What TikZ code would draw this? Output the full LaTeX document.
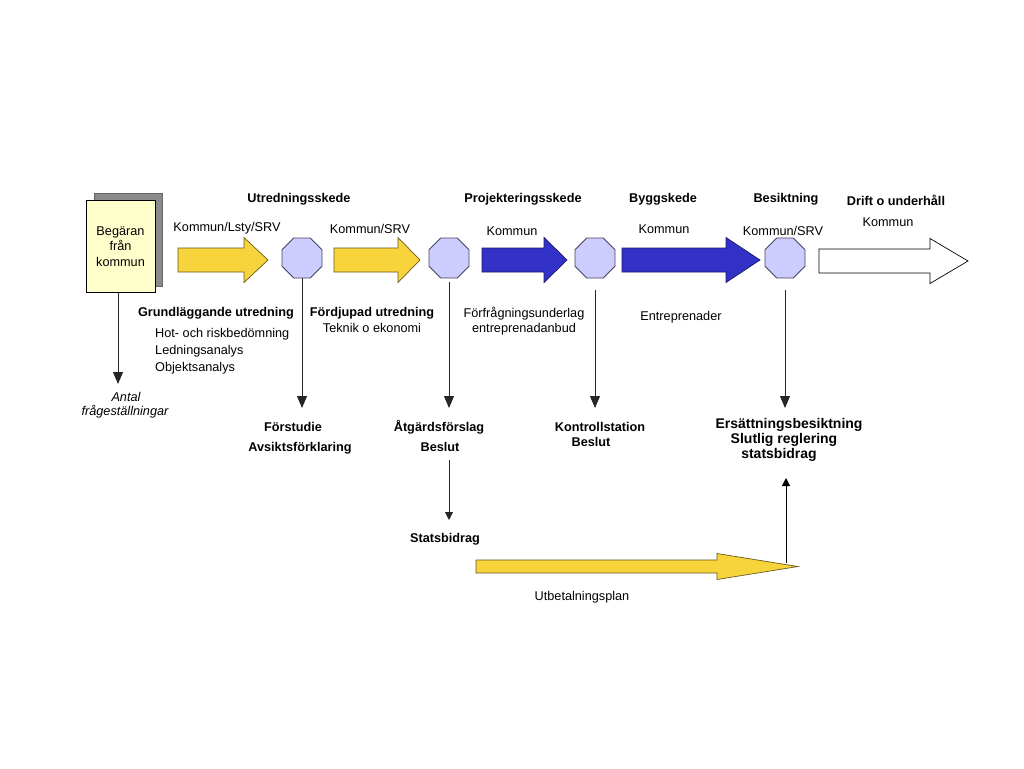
\documentclass[tikz,border=0pt]{standalone}
\usepackage{fontspec}
\setmainfont{Liberation Sans}
\usetikzlibrary{shapes.geometric,arrows.meta}
\definecolor{yel}{HTML}{F7D43C}
\definecolor{yelb}{HTML}{6B5A1E}
\definecolor{blu}{HTML}{3232C8}
\definecolor{blub}{HTML}{1A1A66}
\definecolor{octf}{HTML}{CCCCFF}
\definecolor{octb}{HTML}{44445E}
\definecolor{papf}{HTML}{FFFFCC}
\definecolor{shad}{HTML}{8A8A8A}
\newcommand{\blockarrow}[7]{%
  \draw[#1] (#2,#5-#6) -- (#3,#5-#6) -- (#3,#5-#7) -- (#4,#5) -- (#3,#5+#7) -- (#3,#5+#6) -- (#2,#5+#6) -- cycle;}
\begin{document}
\begin{tikzpicture}[x=1pt,y=-1pt,
  txt/.style={font=\fontsize{12.7}{15}\selectfont, inner sep=0pt, anchor=base},
  bld/.style={txt, font=\fontsize{12.7}{15}\selectfont\bfseries},
  bigb/.style={txt, font=\fontsize{14}{15}\selectfont\bfseries},
  oct/.style={regular polygon, regular polygon sides=8, minimum size=43.3pt, inner sep=0pt, fill=octf, draw=octb, line width=0.9pt},
  yarrow/.style={fill=yel, draw=yelb, line width=0.7pt},
  barrow/.style={fill=blu, draw=blub, line width=0.7pt},
  warrow/.style={fill=white, draw=black, line width=0.7pt},
  darr/.style={-{Triangle[width=10pt,length=12pt]}, line width=0.9pt, draw=black!85},
  sarr/.style={-{Triangle[width=8pt,length=8pt]}, line width=0.9pt, draw=black!85}]
\useasboundingbox (0,0) rectangle (1024,768);
\fill[white] (0,0) rectangle (1024,768);

% request box with shadow
\node[rectangle, minimum width=68pt, minimum height=93pt, fill=shad, draw=black!60, line width=0.6pt] (shadow) at (128,239.5) {};
\node[rectangle, minimum width=69pt, minimum height=92pt, fill=papf, draw=black, line width=0.8pt, align=center, inner sep=0pt,
      font=\fontsize{12.7}{15.5}\selectfont] (beg) at (120.5,246.5) {Begäran\\från\\kommun};

% block arrows
\blockarrow{yarrow}{178}{244}{268}{260}{12}{22.5}
\blockarrow{yarrow}{334}{398}{420}{260}{12}{22.5}
\blockarrow{barrow}{482}{544}{567}{260}{12}{22.5}
\blockarrow{barrow}{622}{726}{760}{260}{12}{22.5}
\blockarrow{warrow}{819}{930}{968}{261}{12}{22.5}
\blockarrow{yarrow}{476}{717}{798}{566.5}{6.5}{13}

% octagons
\node[oct] (o1) at (302,258) {};
\node[oct] (o2) at (449,258) {};
\node[oct] (o3) at (595,258) {};
\node[oct] (o4) at (785,258) {};

% phase headings
\node[bld] (h1) at (299,202) {Utredningsskede};
\node[bld] (h2) at (523,202) {Projekteringsskede};
\node[bld] (h3) at (663,202) {Byggskede};
\node[bld] (h4) at (786,202) {Besiktning};
\node[bld] (h5) at (896,205) {Drift o underhåll};

% actors
\node[txt] (a1) at (227,231) {Kommun/Lsty/SRV};
\node[txt] (a2) at (370,233) {Kommun/SRV};
\node[txt] (a3) at (512,235) {Kommun};
\node[txt] (a4) at (664,233) {Kommun};
\node[txt] (a5) at (783,235) {Kommun/SRV};
\node[txt] (a6) at (888,226) {Kommun};

% activities
\node[bld] (g1) at (216,316) {Grundläggande utredning};
\node[txt, anchor=base west] (g2) at (155,337) {Hot- och riskbedömning};
\node[txt, anchor=base west] (g3) at (155,354) {Ledningsanalys};
\node[txt, anchor=base west] (g4) at (155,371) {Objektsanalys};
\node[bld] (f1) at (372,316) {Fördjupad utredning};
\node[txt] (f2) at (372,332) {Teknik o ekonomi};
\node[txt] (p1) at (524,317) {Förfrågningsunderlag};
\node[txt] (p2) at (524,332) {entreprenadanbud};
\node[txt] (e1) at (681,320) {Entreprenader};

% results
\node[txt, font=\fontsize{12.7}{15}\selectfont\itshape] (q1) at (126,401) {Antal};
\node[txt, font=\fontsize{12.7}{15}\selectfont\itshape] (q2) at (125,415) {frågeställningar};
\node[bld] (r1) at (293,431) {Förstudie};
\node[bld] (r2) at (300,451) {Avsiktsförklaring};
\node[bld] (s1) at (439,431) {Åtgärdsförslag};
\node[bld] (s2) at (440,451) {Beslut};
\node[bld] (k1) at (600,431) {Kontrollstation};
\node[bld] (k2) at (591,446) {Beslut};
\node[bigb] (x1) at (789,428) {Ersättningsbesiktning};
\node[bigb] (x2) at (784,443) {Slutlig reglering};
\node[bigb] (x3) at (779,458) {statsbidrag};
\node[bld] (sb) at (445,542) {Statsbidrag};
\node[txt] (ut) at (582,600) {Utbetalningsplan};

% connector end points
\coordinate (cbeg) at (118,384);
\coordinate (c1) at (302,408);
\coordinate (c2) at (449,408);
\coordinate (c2a) at (449,460);
\coordinate (c2b) at (449,520);
\coordinate (c3a) at (595,290);
\coordinate (c3) at (595,408);
\coordinate (c4a) at (785,290);
\coordinate (c4) at (785,408);
\coordinate (cupa) at (786,563);
\coordinate (cupb) at (786,478);

\draw[darr] (beg.south -| cbeg) -- (cbeg);
\draw[darr] (o1.south) -- (c1);
\draw[darr] ([yshift=-4pt]o2.south) -- (c2);
\draw[darr] (c3a) -- (c3);
\draw[darr] (c4a) -- (c4);
\draw[sarr] (c2a) -- (c2b);
\draw[sarr, draw=black] (cupa) -- (cupb);
\end{tikzpicture}
\end{document}
